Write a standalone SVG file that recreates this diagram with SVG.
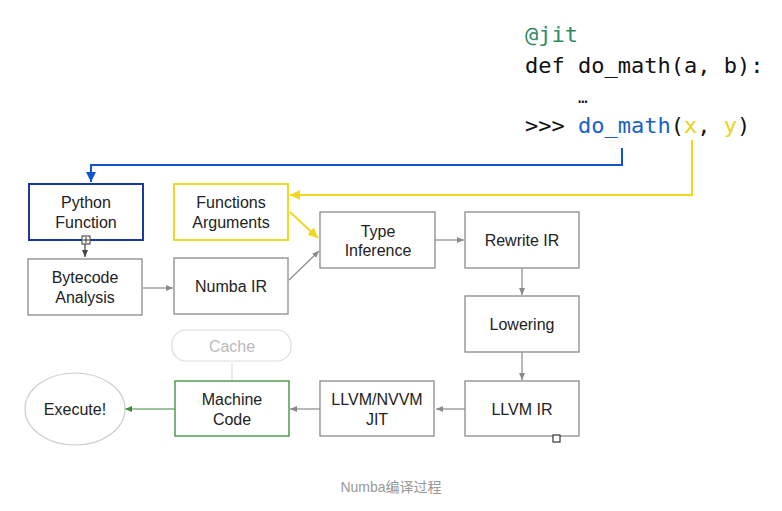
<svg xmlns="http://www.w3.org/2000/svg" width="782" height="511" viewBox="0 0 782 511">
<style>
.b{fill:#fff;stroke:#8a8a8a;stroke-width:1.3}
.t{font-family:"Liberation Sans",Arial,sans-serif;font-size:16px;fill:#222;text-anchor:middle}
.c{font-family:"DejaVu Sans Mono","Liberation Mono",monospace;font-size:22px;fill:#111}
.g{stroke:#8a8a8a;stroke-width:1.2;fill:none}
</style>
<defs>
<marker id="ag" markerWidth="8" markerHeight="8" refX="7" refY="4" orient="auto" markerUnits="userSpaceOnUse"><path d="M0,1 L7,4 L0,7z" fill="#8a8a8a"/></marker>
<marker id="agr" markerWidth="8" markerHeight="8" refX="7" refY="4" orient="auto" markerUnits="userSpaceOnUse"><path d="M0,1 L7,4 L0,7z" fill="#3d8a3d"/></marker>
<marker id="ab" markerWidth="12" markerHeight="12" refX="10" refY="6" orient="auto" markerUnits="userSpaceOnUse"><path d="M0,1 L10,6 L0,11z" fill="#1155cc"/></marker>
<marker id="ay" markerWidth="12" markerHeight="12" refX="10" refY="6" orient="auto" markerUnits="userSpaceOnUse"><path d="M0,1 L10,6 L0,11z" fill="#f0d820"/></marker>
<marker id="ad" markerWidth="8" markerHeight="8" refX="7" refY="4" orient="auto" markerUnits="userSpaceOnUse"><path d="M0,1 L7,4 L0,7z" fill="#444"/></marker>
</defs>
<rect width="782" height="511" fill="#fff"/>
<g id="code">
<text class="c" x="525" y="42" fill="#2e8b67" style="fill:#2e8b67">@jit</text>
<text class="c" x="525" y="73">def do_math(a, b):</text>
<text class="c" x="578" y="103" style="font-size:16px">…</text>
<text class="c" x="525" y="133">&gt;&gt;&gt; <tspan style="fill:#1a5fc8">do_math</tspan>(<tspan style="fill:#e8d21a">x</tspan>, <tspan style="fill:#e8d21a">y</tspan>)</text>
</g>
<g id="connectors">
<path d="M622,148 V165 H91 V182" stroke="#1155cc" stroke-width="2" fill="none" marker-end="url(#ab)"/>
<path d="M692,140 V195 H290" stroke="#f0d820" stroke-width="2" fill="none" marker-end="url(#ay)"/>
<path d="M290,212 L318,238" stroke="#f0d820" stroke-width="2" fill="none" marker-end="url(#ay)"/>
<path d="M85,240 V257" stroke="#444" stroke-width="1.2" fill="none" marker-end="url(#ad)"/>
<path class="g" d="M143,288 H173" marker-end="url(#ag)"/>
<path class="g" d="M289,280 L319,251" marker-end="url(#ag)"/>
<path class="g" d="M435,240 H464" marker-end="url(#ag)"/>
<path class="g" d="M522,268 V295" marker-end="url(#ag)"/>
<path class="g" d="M522,352 V380" marker-end="url(#ag)"/>
<path class="g" d="M465,409 H436" marker-end="url(#ag)"/>
<path class="g" d="M320,409 H290" marker-end="url(#ag)"/>
<path d="M232,381 V363" stroke="#ddd" stroke-width="1.2" fill="none"/>
<path d="M175,409 H125" stroke="#3d8a3d" stroke-width="1.2" fill="none" marker-end="url(#agr)"/>
</g>
<g id="python-function"><rect x="29" y="184" width="114" height="56" fill="#fff" stroke="#1a3a9a" stroke-width="2"/><text class="t" x="86" y="208">Python</text><text class="t" x="86" y="228">Function</text>
<rect x="82" y="236" width="8" height="8" fill="#fff" stroke="#333"/><path d="M86,237 V243 M83,240 H89" stroke="#333" stroke-width="1"/></g>
<g id="functions-arguments"><rect x="174" y="184" width="114" height="56" fill="#fff" stroke="#f0d820" stroke-width="2"/><text class="t" x="231" y="208">Functions</text><text class="t" x="231" y="228">Arguments</text></g>
<g id="type-inference"><rect class="b" x="320" y="212" width="115" height="56"/><text class="t" x="378" y="237">Type</text><text class="t" x="378" y="256">Inference</text></g>
<g id="rewrite-ir"><rect class="b" x="465" y="212" width="114" height="56"/><text class="t" x="522" y="246">Rewrite IR</text></g>
<g id="bytecode-analysis"><rect class="b" x="28" y="259" width="114" height="56"/><text class="t" x="85" y="283">Bytecode</text><text class="t" x="85" y="303">Analysis</text></g>
<g id="numba-ir"><rect class="b" x="174" y="258" width="114" height="56"/><text class="t" x="231" y="292">Numba IR</text></g>
<g id="lowering"><rect class="b" x="465" y="296" width="114" height="56"/><text class="t" x="522" y="330">Lowering</text></g>
<g id="llvm-ir"><rect class="b" x="465" y="381" width="114" height="55"/><text class="t" x="522" y="415">LLVM IR</text>
<rect x="553" y="435" width="7" height="7" fill="#fff" stroke="#111"/></g>
<g id="llvm-jit"><rect class="b" x="320" y="381" width="114" height="55"/><text class="t" x="377" y="405">LLVM/NVVM</text><text class="t" x="377" y="425">JIT</text></g>
<g id="machine-code"><rect x="175" y="381" width="114" height="55" fill="#fff" stroke="#3d8a3d" stroke-width="1.3"/><text class="t" x="232" y="405">Machine</text><text class="t" x="232" y="425">Code</text></g>
<g id="cache"><rect x="172" y="330" width="119" height="31" rx="14" fill="#fff" stroke="#ddd" stroke-width="1.2"/><text class="t" x="232" y="352" style="fill:#bbb">Cache</text></g>
<g id="execute"><ellipse cx="75" cy="409" rx="50" ry="36" fill="#fff" stroke="#ccc" stroke-width="1.2"/><text class="t" x="75" y="415">Execute!</text></g>
<text x="391" y="492" text-anchor="middle" style="font-family:'Liberation Sans','Noto Sans CJK SC',sans-serif;font-size:14px;fill:#999">Numba编译过程</text>
</svg>
